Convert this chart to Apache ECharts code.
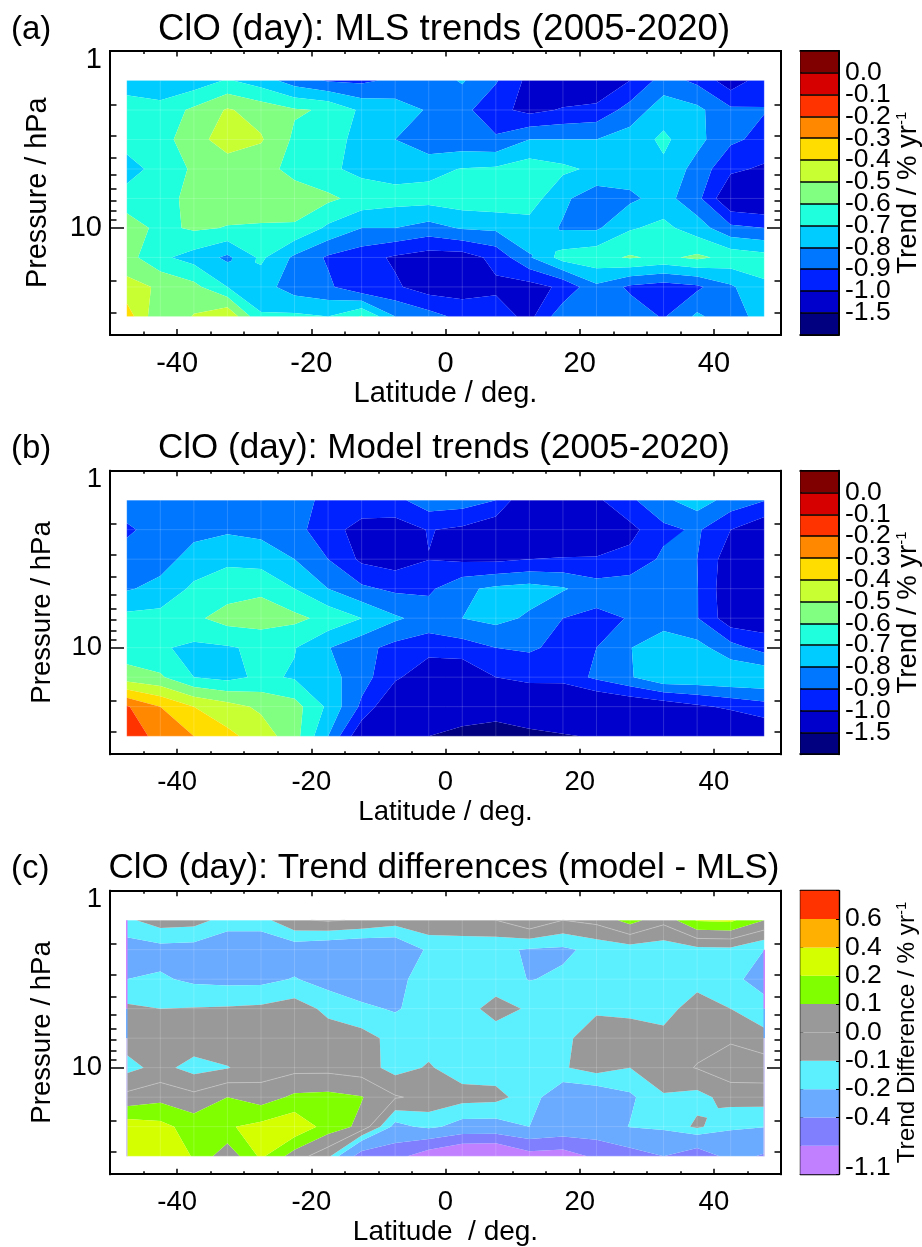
<!DOCTYPE html>
<html><head><meta charset="utf-8">
<style>html,body{margin:0;padding:0;background:#fff}#c{width:922px;height:1247px}</style>
<script src="https://cdn.jsdelivr.net/npm/echarts@6/dist/echarts.min.js"></script></head>
<body><div id="c"></div>
<script>
const latitudes=[-47.5,-42.5,-37.5,-32.5,-27.5,-22.5,-17.5,-12.5,-7.5,-2.5,2.5,7.5,12.5,17.5,22.5,27.5,32.5,37.5,42.5,47.5];
const pressures=[1.468,2.154,3.162,4.642,6.813,10,14.68,21.54,31.62];
const mlsTrends=[
[-.75,-.78,-.76,-.69,-.75,-.85,-.91,-.92,-.88,-.85,-.79,-.89,-1.03,-1.10,-1.10,-1.00,-.855,-.923,-1.06,-.945],
[-.65,-.66,-.58,-.49,-.54,-.59,-.61,-.72,-.75,-.81,-.87,-.97,-1.03,-.99,-.97,-.86,-.745,-.775,-.88,-.895],
[-.65,-.64,-.54,-.45,-.49,-.618,-.655,-.735,-.80,-.87,-.87,-.885,-.80,-.80,-.80,-.755,-.68,-.77,-.88,-.93],
[-.75,-.655,-.587,-.556,-.57,-.625,-.68,-.73,-.745,-.73,-.695,-.685,-.644,-.68,-.72,-.75,-.72,-.838,-.98,-1.016],
[-.65,-.65,-.56,-.55,-.55,-.56,-.58,-.634,-.66,-.66,-.64,-.63,-.65,-.78,-.86,-.82,-.76,-.87,-1.10,-1.12],
[-.55,-.626,-.585,-.605,-.61,-.61,-.72,-.80,-.80,-.84,-.79,-.78,-.74,-.81,-.815,-.71,-.674,-.75,-.875,-.90],
[-.56,-.68,-.74,-.82,-.68,-.82,-.914,-.96,-1.015,-1.05,-1.05,-.97,-.81,-.66,-.63,-.59,-.62,-.58,-.63,-.66],
[-.466,-.513,-.57,-.70,-.757,-.85,-.88,-.985,-.985,-1.05,-1.05,-1.02,-1.04,-.98,-.82,-.92,-.95,-.92,-.815,-.715],
[-.346,-.59,-.493,-.41,-.69,-.68,-.70,-.59,-.80,-.86,-.93,-.95,-1.03,-.83,-.82,-.84,-.91,-.78,-.867,-.74]];
const modelTrends=[
[-.83,-.83,-.83,-.83,-.83,-.87,-.92,-.95,-.93,-.84,-.85,-.90,-1.12,-1.15,-1.02,-.92,-.82,-.75,-.838,-.895],
[-.92,-.85,-.83,-.815,-.83,-.86,-.97,-1.03,-1.05,-.995,-1.02,-1.08,-1.15,-1.15,-1.10,-1.03,-.925,-.885,-1.0,-1.08],
[-.85,-.84,-.76,-.72,-.74,-.80,-.90,-1.02,-1.05,-1.002,-1.02,-1.02,-1.0,-.99,-.99,-.97,-.88,-.90,-1.06,-1.10],
[-.81,-.77,-.68,-.645,-.62,-.70,-.80,-.88,-.92,-.92,-.82,-.78,-.76,-.79,-.853,-.84,-.83,-.895,-1.08,-1.10],
[-.67,-.665,-.62,-.56,-.55,-.575,-.63,-.70,-.785,-.84,-.80,-.77,-.815,-.90,-.925,-.895,-.87,-.895,-1.065,-1.06],
[-.66,-.69,-.72,-.71,-.68,-.695,-.795,-.87,-.93,-.96,-.943,-.90,-.89,-.92,-.90,-.805,-.71,-.765,-.86,-.94],
[-.553,-.585,-.70,-.73,-.68,-.71,-.76,-.86,-.98,-1.08,-1.09,-1.0,-.95,-.96,-.88,-.81,-.72,-.72,-.71,-.71],
[-.19,-.30,-.40,-.46,-.52,-.56,-.72,-.92,-1.12,-1.2,-1.3,-1.35,-1.2,-1.15,-1.13,-1.1,-1.07,-1.02,-.98,-.94],
[-.13,-.24,-.30,-.375,-.445,-.56,-.80,-1.09,-1.2,-1.5,-1.6,-1.65,-1.6,-1.53,-1.47,-1.3,-1.25,-1.2,-1.15,-1.1]];
const trendDifferences=[
[-.12,-.05,-.06,-.14,-.14,-.01,.01,-.01,-.05,-.02,-.02,0,.09,0,.03,.14,.03,.21,.22,.10],
[-.258,-.24,-.247,-.30,-.30,-.27,-.30,-.32,-.31,-.18,-.17,-.178,-.21,-.22,-.17,-.15,-.16,-.13,-.125,-.2],
[-.2,-.186,-.22,-.23,-.23,-.193,-.245,-.27,-.25,-.12,-.14,-.143,-.205,-.18,-.15,-.14,-.14,-.14,-.17,-.25],
[-.08,-.10,-.095,-.09,-.08,-.05,-.125,-.18,-.21,-.155,-.133,-.07,-.11,-.13,-.115,-.125,-.14,-.05,-.10,-.155],
[-.06,-.04,-.04,-.03,-.03,-.03,-.05,-.06,-.134,-.14,-.14,-.14,-.14,-.122,-.05,-.05,-.07,-.03,-.015,-.07],
[-.13,-.07,-.137,-.105,-.05,-.03,-.03,-.05,-.138,-.09,-.15,-.15,-.13,-.11,-.055,-.10,-.04,.005,.06,.06],
[.03,.07,.03,.10,.05,.12,.13,.105,.01,-.03,-.06,-.07,-.147,-.294,-.29,-.22,-.11,-.133,-.06,-.055],
[.26,.23,.157,.19,.23,.28,.157,.074,-.24,-.17,-.25,-.25,-.2,-.25,-.27,-.195,-.175,-.08,-.18,-.195],
[.30,.30,.19,.03,.22,.05,-.07,-.5,-.53,-.72,-.85,-.87,-.68,-.7,-.56,-.48,-.40,-.52,-.34,-.42]];
const trendLevels=[-1.5,-1.0,-0.9,-0.8,-0.7,-0.6,-0.5,-0.4,-0.3,-0.2,-0.1,0.0];
const trendLabels=['','-1.5','-1.0','-0.9','-0.8','-0.7','-0.6','-0.5','-0.4','-0.3','-0.2','-0.1','0.0',''];
const trendColors=['#000080','#0000cc','#0022ff','#0077ff','#00ccff','#20ffdd','#80ff80','#c8ff33','#ffdd00','#ff8800','#ff3300','#d60000','#800000'];
const diffLevels=[-0.6,-0.4,-0.2,-0.1,0.0,0.1,0.2,0.4,0.6];
const diffLabels=['-1.1','-0.6','-0.4','-0.2','-0.1','0.0','0.1','0.2','0.4','0.6',''];
const diffColors=['#c080ff','#8080ff','#6aaaff','#5cf0ff','#999999','#999999','#80ff00','#d4ff00','#ffb000','#ff3300'];
const latMajor=[-40,-20,0,20,40], pMinor=[2,3,4,5,6,7,8,9,20,30], pMajor=[1,10];
// coloured slivers along the left and right data edges of panel (c): [latitude index, first row, last row, colour]
const diffEdgeSlivers=[[0,0,3,'#d080ff'],[0,3,4,'#6aaaff'],[0,4,8,'#cfcbf5'],[19,1,3,'#d080ff'],[19,3,4,'#6aaaff'],[19,4,8,'#cfcbf5']];

const FONT='"Liberation Sans", Arial, sans-serif';
const PW=671,PH=283.5;
const panels=[
 {top:51,title:'ClO (day): MLS trends (2005-2020)',titleSize:36.5,tag:'(a)',data:mlsTrends,levels:trendLevels,colors:trendColors,labels:trendLabels,
  xname:'Latitude / deg.',xsize:29,ysize:28.8,ygap:57,tick:29,tickM:15,nameG:44,bar:'{a|Trend / % yr}{s|-1}',barFont:27.5,barGap:52,barSplit:true,barM:6},
 {top:470.7,title:'ClO (day): Model trends (2005-2020)',titleSize:35,tag:'(b)',data:modelTrends,levels:trendLevels,colors:trendColors,labels:trendLabels,
  xname:'Latitude / deg.',xsize:27.5,ysize:27.6,ygap:54,tick:27.5,tickM:14.5,nameG:44,bar:'{a|Trend / % yr}{s|-1}',barFont:27.5,barGap:52,barSplit:true,barM:6},
 {top:890.7,title:'ClO (day): Trend differences (model - MLS)',titleSize:35,tag:'(c)',data:trendDifferences,levels:diffLevels,colors:diffColors,labels:diffLabels,
  xname:'Latitude  / deg.',xsize:28,ysize:27.6,ygap:54,tick:27.5,tickM:14.5,nameG:44,bar:'{a|Trend Difference / % yr}{s|-1}',barFont:24.3,barGap:46,barSplit:false,barM:6,zeroLine:true,slivers:diffEdgeSlivers}];

function clip(pts,lim,keepAbove){
  const out=[];
  for(let i=0;i<pts.length;i++){
    const a=pts[i],b=pts[(i+1)%pts.length];
    const ina=keepAbove?a[2]>=lim:a[2]<=lim, inb=keepAbove?b[2]>=lim:b[2]<=lim;
    if(ina)out.push(a);
    if(ina!==inb){const t=(lim-a[2])/(b[2]-a[2]);out.push([a[0]+t*(b[0]-a[0]),a[1]+t*(b[1]-a[1]),lim]);}
  }
  return out;
}
function isSaddle(q,levels){
  return levels.some(l=>{const s=q.map(p=>p[2]>=l);return s[0]===s[2]&&s[1]===s[3]&&s[0]!==s[1];});
}
function cells(data,levels){
  const qs=[];
  for(let r=0;r<pressures.length-1;r++)for(let c=0;c<latitudes.length-1;c++){
    const P=(rr,cc)=>[latitudes[cc],Math.log10(pressures[rr]),data[rr][cc]];
    const q=[P(r,c),P(r,c+1),P(r+1,c+1),P(r+1,c)];
    if(isSaddle(q,levels)){
      const m=[0,1,2].map(k=>(q[0][k]+q[1][k]+q[2][k]+q[3][k])/4);
      for(let k=0;k<4;k++)qs.push([q[k],q[(k+1)%4],m]);
    } else qs.push(q);
  }
  return qs;
}
function bands(data,levels){
  const out=[];const qs=cells(data,levels);
  for(let b=0;b<=levels.length;b++){
    const lo=b===0?-Infinity:levels[b-1],hi=b===levels.length?Infinity:levels[b];
    const rings=[];
    qs.forEach(t=>{
      let p=t;
      if(lo>-Infinity)p=clip(p,lo,true);
      if(p.length&&hi<Infinity)p=clip(p,hi,false);
      if(p.length>=3)rings.push(p.map(q=>[q[0],Math.pow(10,q[1])]));
    });
    out.push({b,rings});
  }
  return out;
}
function zeroSegments(data,levels){
  const segs=[];
  cells(data,levels).forEach(t=>{
    const s=[];
    for(let i=0;i<t.length;i++){const a=t[i],b=t[(i+1)%t.length];
      if((a[2]>=0)!==(b[2]>=0)){const u=(0-a[2])/(b[2]-a[2]);s.push([a[0]+u*(b[0]-a[0]),Math.pow(10,a[1]+u*(b[1]-a[1]))]);}
    }
    if(s.length>=2)segs.push(s.slice(0,2));
  });
  return segs;
}
// the faint pale seams along the cell edges of the filled field
const cellEdges=[];
pressures.forEach(p=>cellEdges.push([[latitudes[0],p],[latitudes[latitudes.length-1],p]]));
latitudes.forEach(l=>cellEdges.push([[l,pressures[0]],[l,pressures[pressures.length-1]]]));

const grid=[],xAxis=[],yAxis=[],series=[],title=[];
const frame=w=>({show:true,onZero:false,lineStyle:{color:'#000',width:w}});
function lineSeries(xi,yi,z,list,styleOf){
  return {type:'custom',xAxisIndex:xi,yAxisIndex:yi,coordinateSystem:'cartesian2d',silent:true,animation:false,clip:false,z,
    data:list.map((s,k)=>[s[0][0],s[0][1],k]),encode:{x:0,y:1},progressive:0,
    renderItem:(params,api)=>({type:'polyline',shape:{points:list[params.dataIndex].slice(0,2).map(p=>api.coord(p))},style:Object.assign({fill:null},styleOf(params.dataIndex))})};
}
panels.forEach((P,i)=>{
  const g=grid.length;
  grid.push({left:110,top:P.top,width:PW,height:PH,containLabel:false,outerBoundsMode:'none'});
  grid.push({left:800.3,top:P.top,width:38.7,height:PH,containLabel:false,outerBoundsMode:'none'});
  const xBase=xAxis.length,yBase=yAxis.length;
  const xa=(pos,major,lab)=>({type:'value',gridIndex:g,position:pos,min:-50,max:50,interval:5,
    axisLine:frame(2),splitLine:{show:false},
    name:lab?P.xname:'',nameLocation:'middle',nameGap:P.nameG,nameTextStyle:{fontFamily:FONT,fontSize:P.xsize,color:'#000'},
    axisTick:major?{show:true,inside:true,length:5.5,lineStyle:{color:'#000',width:1.5},customValues:latMajor}:{show:true,inside:true,length:3,lineStyle:{color:'#000',width:1.5}},
    axisLabel:lab?{show:true,margin:P.tickM,fontFamily:FONT,fontSize:P.tick,color:'#000',customValues:latMajor,formatter:v=>String(v)}:{show:false}});
  const ya=(pos,major,lab)=>({type:'log',logBase:10,gridIndex:g,position:pos,min:1,max:40,inverse:true,
    axisLine:frame(2),splitLine:{show:false},minorTick:{show:false},
    name:lab?'Pressure / hPa':'',nameLocation:'middle',nameGap:P.ygap,nameTextStyle:{fontFamily:FONT,fontSize:P.ysize,color:'#000'},
    axisTick:{show:true,inside:true,length:major?14:6.5,lineStyle:{color:'#000',width:1.5},customValues:major?pMajor:pMinor},
    axisLabel:lab?{show:true,margin:8,fontFamily:FONT,fontSize:P.tick,color:'#000',customValues:pMajor,
       formatter:v=>Math.round(v)===1?'{t|1}':String(Math.round(v)),rich:{t:{fontFamily:FONT,fontSize:P.tick,color:'#000',padding:[18,0,0,0]}}}:{show:false}});
  xAxis.push(xa('bottom',true,true),xa('top',true,false),xa('bottom',false,false),xa('top',false,false));
  yAxis.push(ya('left',true,true),ya('right',true,false),ya('left',false,false),ya('right',false,false));
  const polys=bands(P.data,P.levels);
  series.push({type:'custom',xAxisIndex:xBase,yAxisIndex:yBase,coordinateSystem:'cartesian2d',silent:true,animation:false,clip:false,z:1,
    data:polys.map((q,k)=>[-47.5,10,k]),encode:{x:0,y:1},progressive:0,
    renderItem:(params,api)=>{const q=polys[params.dataIndex];const col=P.colors[q.b];
      if(!q.rings.length)return null;
      const d=q.rings.map(r=>'M'+r.map(p=>{const c=api.coord(p);return c[0].toFixed(2)+' '+c[1].toFixed(2);}).join('L')+'Z').join('');
      return {type:'path',shape:{pathData:d},style:{fill:col,stroke:null}};}});
  series.push(lineSeries(xBase,yBase,2,cellEdges,()=>({stroke:'rgba(255,255,255,0.17)',lineWidth:1})));
  if(P.zeroLine){
    series.push(lineSeries(xBase,yBase,3,zeroSegments(P.data,P.levels),()=>({stroke:'#c4c4c4',lineWidth:0.7})));
  }
  if(P.slivers){
    const sl=P.slivers.map(s=>[[latitudes[s[0]],pressures[s[1]]],[latitudes[s[0]],pressures[s[2]]]]);
    series.push(lineSeries(xBase,yBase,4,sl,k=>({stroke:P.slivers[k][3],lineWidth:1.5})));
  }
  // colour bar
  const n=P.colors.length;
  const xB=xAxis.length,yB=yAxis.length;
  const bw=P.barSplit?2:1.4;
  const barTick={show:!P.barSplit,inside:true,length:3,lineStyle:{color:'#000',width:1}};
  xAxis.push({type:'value',gridIndex:g+1,position:'bottom',min:0,max:1,axisLine:frame(bw),axisTick:{show:false},axisLabel:{show:false},splitLine:{show:false}});
  yAxis.push({type:'value',gridIndex:g+1,position:'right',min:0,max:n,interval:1,
    axisLine:frame(bw),axisTick:barTick,
    splitLine:{show:P.barSplit,lineStyle:{color:'#000',width:1.5}},z:5,
    name:P.bar,nameLocation:'middle',nameRotate:90,nameGap:P.barGap,
    nameTextStyle:{rich:{a:{fontFamily:FONT,fontSize:P.barFont,color:'#000'},s:{fontFamily:FONT,fontSize:15,color:'#000',verticalAlign:'top',padding:[0,0,10,0]}}},
    axisLabel:{show:true,showMinLabel:true,showMaxLabel:true,margin:P.barM,fontFamily:FONT,fontSize:26.5,color:'#000',
      formatter:v=>v===0&&P.labels[0]?'{b|'+P.labels[0]+'}':(P.labels[v]||''),
      rich:{b:{fontFamily:FONT,fontSize:26.5,color:'#000',padding:[0,0,14,0]}}}});
  xAxis.push({type:'value',gridIndex:g+1,position:'top',min:0,max:1,axisLine:frame(bw),axisTick:{show:false},axisLabel:{show:false},splitLine:{show:false}});
  yAxis.push({type:'value',gridIndex:g+1,position:'left',min:0,max:n,interval:1,axisLine:frame(bw),axisTick:barTick,axisLabel:{show:false},splitLine:{show:false}});
  series.push({type:'custom',xAxisIndex:xB,yAxisIndex:yB,coordinateSystem:'cartesian2d',silent:true,animation:false,z:1,
    data:P.colors.map((c,k)=>[0,k,k]),encode:{x:0,y:1},
    renderItem:(params,api)=>{const k=params.dataIndex;const a=api.coord([0,k]),b=api.coord([1,k+1]);
      return {type:'rect',shape:{x:a[0],y:b[1],width:b[0]-a[0],height:a[1]-b[1]},style:{fill:P.colors[k]}};}});
  title.push({text:P.title,left:439,textAlign:'center',top:P.top-45,textStyle:{fontFamily:FONT,fontSize:P.titleSize,fontWeight:'normal',color:'#000'}});
  title.push({text:P.tag,left:6,top:P.top-43,textStyle:{fontFamily:FONT,fontSize:33,fontWeight:'normal',color:'#000'}});
});
const chart=echarts.init(document.getElementById('c'),null,{renderer:'canvas'});
chart.setOption({animation:false,backgroundColor:'#fff',title,grid,xAxis,yAxis,series});
</script></body></html>
